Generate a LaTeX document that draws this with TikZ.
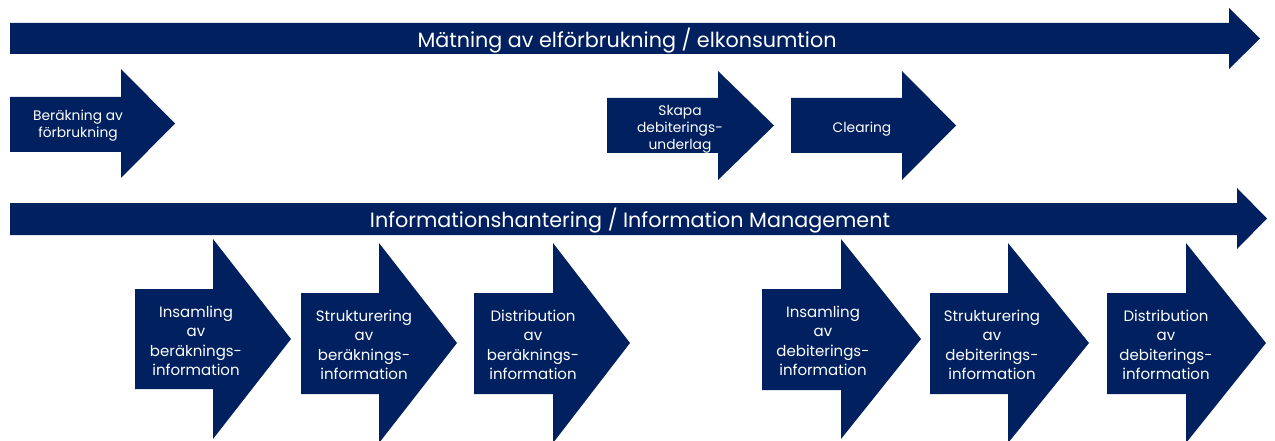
\documentclass[tikz,border=0pt]{standalone}
\usepackage{fontspec}
\setmainfont{Poppins}
\definecolor{navy}{RGB}{0,32,96}
% block arrow: left, neck, tip, shaft top, shaft bottom, head top, head bottom
\newcommand\navyarrow[7]{%
  \pgfmathsetmacro\arrowtipy{(#6+#7)/2}%
  \fill[arrowfill] (#1,#4) -- (#2,#4) -- (#2,#6) -- (#3,\arrowtipy) -- (#2,#7) -- (#2,#5) -- (#1,#5) -- cycle;}
\begin{document}
\begin{tikzpicture}[x=1pt,y=-1pt,
  arrowfill/.style={fill=navy},
  lbl/.style={text=white,align=center,inner sep=0pt},
  biglbl/.style={lbl,font=\fontsize{20.7}{24}\selectfont},
  smalllbl/.style={lbl,font=\fontsize{13.8}{17}\selectfont},
  steplbl/.style={lbl,font=\fontsize{15}{19.5}\selectfont}]
\clip (0,0) rectangle (1275,441);
\fill[white] (0,0) rectangle (1275,441);

% long process arrows
\navyarrow{10}{1229}{1260}{23}{54}{8}{69}
\navyarrow{10}{1237}{1267}{203}{235}{188}{249}

% upper steps
\navyarrow{10}{121}{175}{97}{152}{69}{178}
\navyarrow{607}{718}{774}{98}{153}{71}{180}
\navyarrow{791}{902}{956}{98}{153}{71}{180}

% lower steps
\navyarrow{135}{213}{291}{289}{389}{239}{439}
\navyarrow{301}{379}{457}{293}{394}{243}{443}
\navyarrow{474}{553}{630}{293}{394}{243}{443}
\navyarrow{762}{841}{921}{289}{390}{239}{439}
\navyarrow{930}{1008}{1089}{293}{394}{243}{443}
\navyarrow{1107}{1186}{1266}{293}{394}{243}{443}

% labels
\node[biglbl] (matning) at (627,41) {Mätning av elförbrukning / elkonsumtion};
\node[biglbl] (info) at (630,221) {Informationshantering / Information Management};
\node[smalllbl] (berakning) at (78,125.5) {Beräkning av\\förbrukning};
\node[smalllbl] (skapa) at (680,129) {Skapa\\debiterings-\\underlag};
\node[smalllbl] (clearing) at (862,129) {Clearing};

\node[steplbl] (insB) at (196,341) {Insamling\\av\\beräknings-\\information};
\node[steplbl] (strB) at (364,345) {Strukturering\\av\\beräknings-\\information};
\node[steplbl] (disB) at (533,345) {Distribution\\av\\beräknings-\\information};
\node[steplbl] (insD) at (823,341) {Insamling\\av\\debiterings-\\information};
\node[steplbl] (strD) at (992,345) {Strukturering\\av\\debiterings-\\information};
\node[steplbl] (disD) at (1166,345) {Distribution\\av\\debiterings-\\information};
\end{tikzpicture}
\end{document}
